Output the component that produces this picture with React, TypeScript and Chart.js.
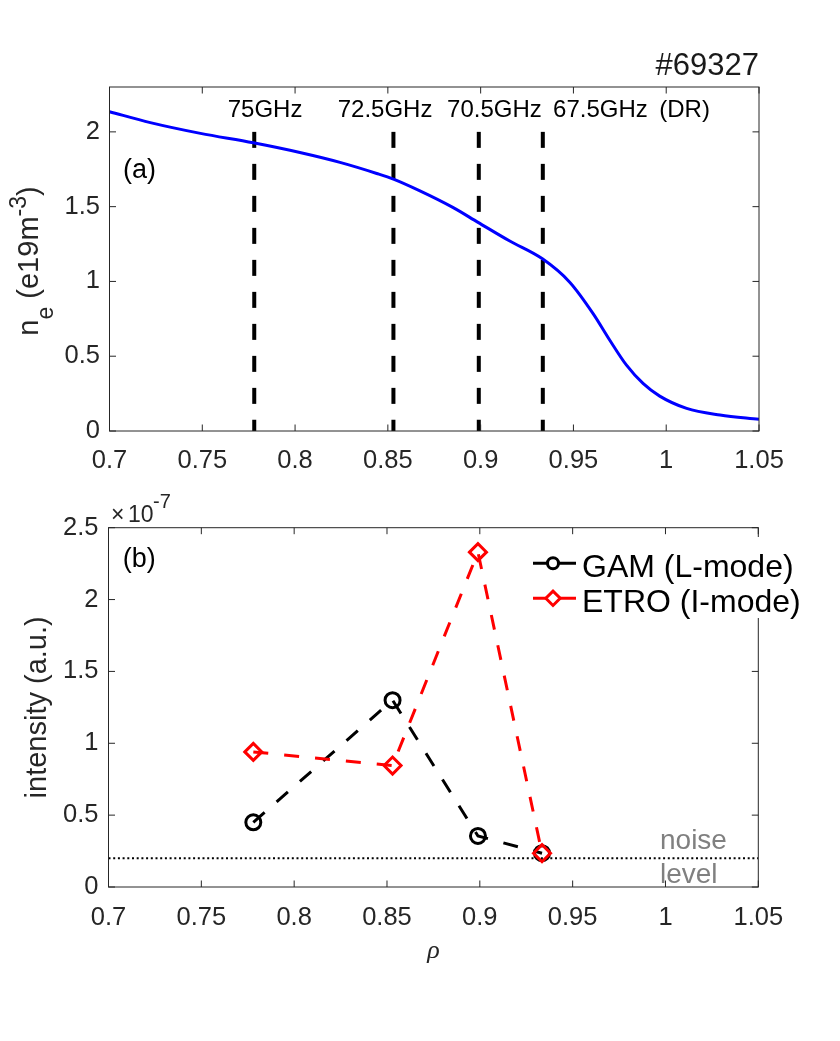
import React, { useEffect, useRef } from "react";
import { Chart, registerables } from "chart.js";

Chart.register(...registerables);

// ---------------- data ----------------
const rhoTicks = [0.7, 0.75, 0.8, 0.85, 0.9, 0.95, 1, 1.05];
const rhoTickLabels = ["0.7", "0.75", "0.8", "0.85", "0.9", "0.95", "1", "1.05"];
const neTicks = [0, 0.5, 1, 1.5, 2];
const neTickLabels = ["0", "0.5", "1", "1.5", "2"];
const intensityTicks = [0, 0.5, 1, 1.5, 2, 2.5];
const intensityTickLabels = ["0", "0.5", "1", "1.5", "2", "2.5"];

// density profile (panel a)
const profileRho = [0.7, 0.722, 0.749, 0.7775, 0.8026, 0.8242, 0.844, 0.853, 0.867, 0.885, 0.8986, 0.9157, 0.9333, 0.948, 0.9606, 0.9696, 0.9786, 0.9875, 0.9965, 1.011, 1.029, 1.05];
const profileNe = [2.135, 2.062, 1.99, 1.927, 1.862, 1.796, 1.722, 1.684, 1.607, 1.495, 1.395, 1.27, 1.151, 0.995, 0.785, 0.607, 0.44, 0.318, 0.233, 0.151, 0.107, 0.078];

// reflectometer channels
const channelRho = [0.778, 0.853, 0.899, 0.9335];
const channelNames = ["75GHz", "72.5GHz", "70.5GHz", "67.5GHz"];
const channelTop = 2;

// intensity (panel b), units of 1e-7
const gamIntensity = [0.45, 1.3, 0.355, 0.235];
const etroIntensity = [0.94, 0.845, 2.33, 0.235];
const noiseLevel = 0.2;

const shotLabel = "#69327";
const gamLabel = "GAM (L-mode)";
const etroLabel = "ETRO (I-mode)";

// ---------------- styling ----------------
const SANS = "'Liberation Sans', Arial, Helvetica, sans-serif";
const AXIS = "#262626";
const TICK_FONT = 25.5;
const TICK_LEN = 6.5;

function drawFrame(chart: any) {
  const { ctx, chartArea: a } = chart;
  const xs = chart.scales.x;
  const ys = chart.scales.y;
  ctx.save();
  ctx.strokeStyle = AXIS;
  ctx.lineWidth = 1;
  ctx.beginPath();
  for (const t of xs.ticks) {
    const px = xs.getPixelForValue(t.value);
    ctx.moveTo(px, a.bottom);
    ctx.lineTo(px, a.bottom - TICK_LEN);
    ctx.moveTo(px, a.top);
    ctx.lineTo(px, a.top + TICK_LEN);
  }
  for (const t of ys.ticks) {
    const py = ys.getPixelForValue(t.value);
    ctx.moveTo(a.left, py);
    ctx.lineTo(a.left + TICK_LEN, py);
    ctx.moveTo(a.right, py);
    ctx.lineTo(a.right - TICK_LEN, py);
  }
  ctx.stroke();
  ctx.strokeRect(a.left, a.top, a.right - a.left, a.bottom - a.top);
  ctx.restore();
}

type Part = { text: string; size: number; dy: number };
function drawRotatedRich(ctx: CanvasRenderingContext2D, parts: Part[], bx: number, cy: number, color: string) {
  ctx.save();
  ctx.fillStyle = color;
  ctx.textBaseline = "alphabetic";
  ctx.textAlign = "left";
  let total = 0;
  for (const p of parts) {
    ctx.font = `${p.size}px ${SANS}`;
    total += ctx.measureText(p.text).width;
  }
  ctx.translate(bx, cy);
  ctx.rotate(-Math.PI / 2);
  let x = -total / 2;
  for (const p of parts) {
    ctx.font = `${p.size}px ${SANS}`;
    ctx.fillText(p.text, x, p.dy);
    x += ctx.measureText(p.text).width;
  }
  ctx.restore();
}

const channelLabelDx = [-26.5, -55.7, -31.7, 10.3];

const topPlugin = {
  id: "topDecor",
  afterDraw(chart: any) {
    drawFrame(chart);
    const { ctx } = chart;
    const xs = chart.scales.x;
    ctx.save();
    ctx.fillStyle = "#000";
    ctx.textBaseline = "alphabetic";
    ctx.textAlign = "left";
    ctx.font = `24px ${SANS}`;
    channelNames.forEach((n, i) => {
      ctx.fillText(n, xs.getPixelForValue(channelRho[i]) + channelLabelDx[i], 117);
    });
    ctx.fillText("(DR)", 659.3, 117);
    ctx.fillStyle = "#000";
    ctx.font = `27px ${SANS}`;
    ctx.fillText("(a)", 123, 177.5);
    ctx.fillStyle = "#1a1a1a";
    ctx.font = `31px ${SANS}`;
    ctx.textAlign = "right";
    ctx.fillText(shotLabel, 759, 75);
    ctx.restore();
    drawRotatedRich(
      ctx,
      [
        { text: "n", size: 29, dy: 0 },
        { text: "e", size: 23, dy: 15 },
        { text: " (e19m", size: 29, dy: 0 },
        { text: "-3", size: 23, dy: -12 },
        { text: ")", size: 29, dy: 0 },
      ],
      37.5,
      261,
      AXIS
    );
  },
};

const bottomPlugin = {
  id: "bottomDecor",
  afterDraw(chart: any) {
    drawFrame(chart);
    const { ctx } = chart;
    ctx.save();
    // panel letter
    ctx.fillStyle = "#000";
    ctx.textBaseline = "alphabetic";
    ctx.textAlign = "left";
    ctx.font = `27px ${SANS}`;
    ctx.fillText("(b)", 122.7, 87);
    // exponent
    ctx.fillStyle = AXIS;
    ctx.font = `23px ${SANS}`;
    ctx.fillText("\u00d7", 111, 41.7);
    ctx.fillText("10", 128, 41.7);
    ctx.font = `20px ${SANS}`;
    ctx.fillText("-7", 153, 28);
    // noise level
    ctx.fillStyle = "#808080";
    ctx.font = `28px ${SANS}`;
    ctx.fillText("noise", 660, 369);
    ctx.fillText("level", 660, 403);
    // legend
    ctx.fillStyle = "#fff";
    ctx.fillRect(525, 57, 281, 81);
    const rows = [
      { label: gamLabel, color: "#000", marker: "circle", y: 83.3, base: 96.7 },
      { label: etroLabel, color: "#ff0000", marker: "diamond", y: 118.3, base: 131.7 },
    ];
    for (const r of rows) {
      ctx.strokeStyle = r.color;
      ctx.lineWidth = 3;
      ctx.setLineDash([]);
      ctx.beginPath();
      ctx.moveTo(533, r.y);
      ctx.lineTo(576, r.y);
      ctx.stroke();
      ctx.fillStyle = "#fff";
      ctx.beginPath();
      if (r.marker === "circle") {
        ctx.arc(553, r.y, 5.5, 0, Math.PI * 2);
      } else {
        const d = 7.2;
        ctx.moveTo(553 - d, r.y);
        ctx.lineTo(553, r.y - d);
        ctx.lineTo(553 + d, r.y);
        ctx.lineTo(553, r.y + d);
        ctx.closePath();
      }
      ctx.fill();
      ctx.stroke();
      ctx.fillStyle = "#000";
      ctx.font = `32px ${SANS}`;
      ctx.fillText(r.label, 582, r.base);
    }
    ctx.restore();
  },
};

function tickSetter(values: number[]) {
  return (scale: any) => {
    scale.ticks = values.map((v) => ({ value: v }));
  };
}

function topConfig(): any {
  const datasets: any[] = [
    {
      label: "ne",
      data: profileRho.map((x, i) => ({ x, y: profileNe[i] })),
      borderColor: "#0000ff",
      borderWidth: 3,
      pointRadius: 0,
      cubicInterpolationMode: "monotone",
      fill: false,
    },
  ];
  channelRho.forEach((r, i) => {
    datasets.push({
      label: channelNames[i],
      data: [
        { x: r, y: channelTop },
        { x: r, y: 0 },
      ],
      borderColor: "#000",
      borderWidth: 4,
      borderDash: [16, 16],
      borderCapStyle: "butt",
      pointRadius: 0,
      fill: false,
    });
  });
  return {
    type: "line",
    data: { datasets },
    options: {
      responsive: false,
      animation: false,
      layout: { padding: { left: 0, right: 81, top: 87, bottom: 0 } },
      plugins: { legend: { display: false }, tooltip: { enabled: false }, title: { display: false } },
      scales: {
        x: {
          type: "linear",
          min: 0.7,
          max: 1.05,
          afterBuildTicks: tickSetter(rhoTicks),
          afterFit: (s: any) => {
            s.height = 49;
          },
          grid: { display: false, drawTicks: false },
          border: { display: false },
          ticks: {
            autoSkip: false,
            maxRotation: 0,
            padding: 15,
            color: AXIS,
            font: { size: TICK_FONT, family: SANS },
            callback: (_v: any, i: number) => rhoTickLabels[i],
          },
        },
        y: {
          type: "linear",
          min: 0,
          max: 2.3,
          afterBuildTicks: tickSetter(neTicks),
          afterFit: (s: any) => {
            s.width = 109.5;
          },
          grid: { display: false, drawTicks: false },
          border: { display: false },
          ticks: {
            autoSkip: false,
            padding: 9.5,
            color: AXIS,
            font: { size: TICK_FONT, family: SANS },
            callback: (_v: any, i: number) => neTickLabels[i],
          },
        },
      },
    },
    plugins: [topPlugin],
  };
}

function bottomConfig(): any {
  return {
    type: "line",
    data: {
      datasets: [
        {
          label: etroLabel,
          order: 0,
          data: channelRho.map((x, i) => ({ x, y: etroIntensity[i] })),
          borderColor: "#ff0000",
          borderWidth: 3,
          borderDash: [15, 16],
          pointStyle: "rectRot",
          pointRadius: 8.5,
          pointBorderWidth: 3,
          pointBorderColor: "#ff0000",
          pointBackgroundColor: "rgba(0,0,0,0)",
          fill: false,
        },
        {
          label: gamLabel,
          order: 1,
          data: channelRho.map((x, i) => ({ x, y: gamIntensity[i] })),
          borderColor: "#000",
          borderWidth: 3,
          borderDash: [15, 16],
          pointStyle: "circle",
          pointRadius: 7.5,
          pointBorderWidth: 3,
          pointBorderColor: "#000",
          pointBackgroundColor: "rgba(0,0,0,0)",
          fill: false,
        },
        {
          label: "noise",
          order: 2,
          data: [
            { x: 0.7, y: noiseLevel },
            { x: 1.05, y: noiseLevel },
          ],
          borderColor: "#000",
          borderWidth: 1.8,
          borderDash: [2, 2.7],
          pointRadius: 0,
          fill: false,
        },
      ],
    },
    options: {
      responsive: false,
      animation: false,
      layout: { padding: { left: 0, right: 81.7, top: 47.7, bottom: 74.4 } },
      plugins: { legend: { display: false }, tooltip: { enabled: false }, title: { display: false } },
      scales: {
        x: {
          type: "linear",
          min: 0.7,
          max: 1.05,
          afterBuildTicks: tickSetter(rhoTicks),
          afterFit: (s: any) => {
            s.height = 79.6;
          },
          grid: { display: false, drawTicks: false },
          border: { display: false },
          title: {
            display: true,
            text: "\u03c1",
            color: AXIS,
            padding: 0,
            font: { size: 26, family: "'Liberation Serif', 'Times New Roman', serif", style: "italic" },
          },
          ticks: {
            autoSkip: false,
            maxRotation: 0,
            padding: 16,
            color: AXIS,
            font: { size: TICK_FONT, family: SANS },
            callback: (_v: any, i: number) => rhoTickLabels[i],
          },
        },
        y: {
          type: "linear",
          min: 0,
          max: 2.5,
          afterBuildTicks: tickSetter(intensityTicks),
          afterFit: (s: any) => {
            s.width = 108.5;
          },
          grid: { display: false, drawTicks: false },
          border: { display: false },
          title: {
            display: true,
            text: "intensity (a.u.)",
            color: AXIS,
            padding: { top: 21, bottom: 0 },
            font: { size: 29, family: SANS },
          },
          ticks: {
            autoSkip: false,
            padding: 10,
            color: AXIS,
            font: { size: TICK_FONT, family: SANS },
            callback: (_v: any, i: number) => intensityTickLabels[i],
          },
        },
      },
    },
    plugins: [bottomPlugin],
  };
}

export default function App() {
  const topRef = useRef<HTMLCanvasElement>(null);
  const botRef = useRef<HTMLCanvasElement>(null);
  useEffect(() => {
    const c1 = new Chart(topRef.current as HTMLCanvasElement, topConfig());
    const c2 = new Chart(botRef.current as HTMLCanvasElement, bottomConfig());
    return () => {
      c1.destroy();
      c2.destroy();
    };
  }, []);
  return (
    <div style={{ position: "absolute", left: 0, top: 0, width: 840, height: 1041, background: "#fff" }}>
      <canvas ref={topRef} width={840} height={480} style={{ position: "absolute", left: 0, top: 0, width: 840, height: 480 }} />
      <canvas ref={botRef} width={840} height={561} style={{ position: "absolute", left: 0, top: 480, width: 840, height: 561 }} />
    </div>
  );
}
